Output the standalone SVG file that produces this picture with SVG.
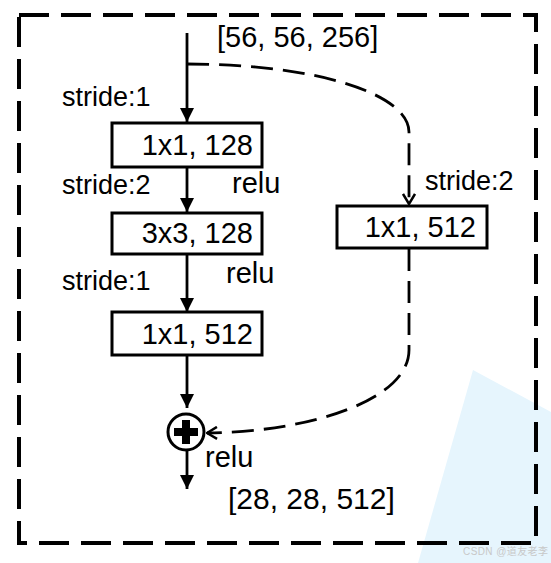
<svg xmlns="http://www.w3.org/2000/svg" width="551" height="563" viewBox="0 0 551 563">
<style>
.t{font-family:"Liberation Sans",Arial,sans-serif;fill:#000}
.box{fill:#fff;stroke:#000;stroke-width:3}
.ln{fill:none;stroke:#000;stroke-width:2.8}
.dl{fill:none;stroke:#000;stroke-width:2.8;stroke-dasharray:22 10}
</style>
<defs>
<marker id="ah" viewBox="0 0 14 14" refX="14" refY="7" markerWidth="14" markerHeight="14" markerUnits="userSpaceOnUse" orient="auto">
<path d="M0,0 L14,7 L0,14 Z" fill="#000"/>
</marker>
<marker id="oa" viewBox="0 0 12 14" refX="11" refY="7" markerWidth="12" markerHeight="14" markerUnits="userSpaceOnUse" orient="auto">
<path d="M1,1 L11,7 L1,13" fill="none" stroke="#000" stroke-width="2.5"/>
</marker>
</defs>
<rect width="551" height="563" fill="#fff"/>
<polygon points="473,370 551,412 551,563 418,563" fill="#e6f5fd"/>
<rect x="19" y="15" width="517" height="528" fill="none" stroke="#000" stroke-width="4" stroke-dasharray="30 12"/>
<g id="connectors">
<path class="ln" d="M187,33 L187,122" marker-end="url(#ah)"/>
<path class="ln" d="M187,167 L187,212" marker-end="url(#ah)"/>
<path class="ln" d="M187,253 L187,312" marker-end="url(#ah)"/>
<path class="ln" d="M187,355 L187,408" marker-end="url(#ah)"/>
<path class="ln" d="M187,451 L187,489" marker-end="url(#ah)"/>
<path class="dl" d="M187,64 C320,64 409,95 409,132 L409,204" marker-end="url(#oa)"/>
<path class="dl" d="M409,249 L409,350 C409,400 310,432 207,433" marker-end="url(#oa)"/>
</g>
<g id="box1">
<rect class="box" x="112" y="123" width="150" height="44"/>
<text class="t" x="253" y="155" font-size="29" text-anchor="end">1x1, 128</text>
</g>
<g id="box2">
<rect class="box" x="112" y="213" width="150" height="41"/>
<text class="t" x="253" y="243" font-size="29" text-anchor="end">3x3, 128</text>
</g>
<g id="box3">
<rect class="box" x="112" y="312" width="150" height="43"/>
<text class="t" x="253" y="344" font-size="29" text-anchor="end">1x1, 512</text>
</g>
<g id="box4">
<rect class="box" x="337" y="206" width="150" height="42"/>
<text class="t" x="476" y="237" font-size="29" text-anchor="end">1x1, 512</text>
</g>
<g id="add">
<circle cx="186" cy="432" r="18" fill="#fff" stroke="#000" stroke-width="3"/>
<path d="M182,420 H190 V428 H198 V436 H190 V444 H182 V436 H174 V428 H182 Z" fill="#000"/>
</g>
<g id="labels">
<text class="t" x="217" y="47" font-size="29">[56, 56, 256]</text>
<text class="t" x="62" y="106" font-size="27">stride:1</text>
<text class="t" x="62" y="194" font-size="27">stride:2</text>
<text class="t" x="232" y="193" font-size="29">relu</text>
<text class="t" x="62" y="290" font-size="27">stride:1</text>
<text class="t" x="226" y="283" font-size="29">relu</text>
<text class="t" x="425" y="190" font-size="27">stride:2</text>
<text class="t" x="205" y="467" font-size="29">relu</text>
<text class="t" x="228" y="509" font-size="30">[28, 28, 512]</text>
<text x="463" y="555" font-size="10" textLength="85" fill="#c8c8c8" font-family="'Liberation Sans','Noto Sans CJK SC',sans-serif">CSDN @道友老李</text>
</g>
</svg>
